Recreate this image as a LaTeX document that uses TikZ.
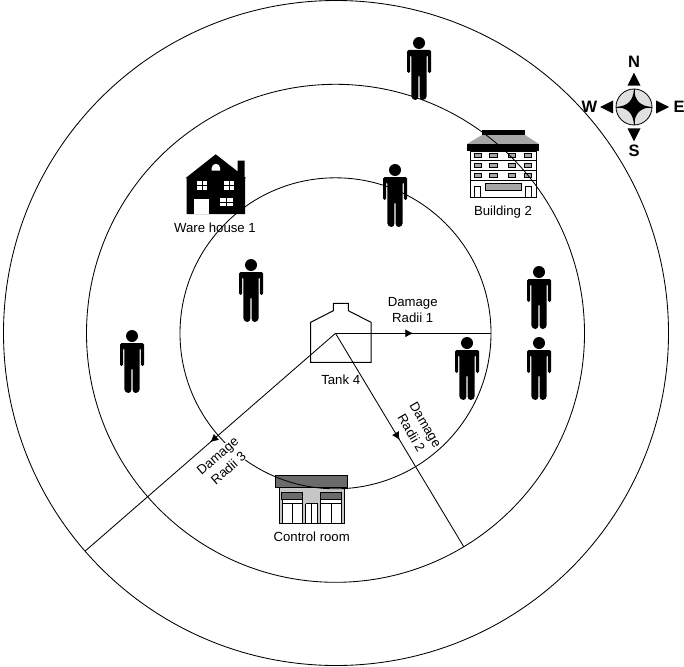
\documentclass[tikz,border=0pt]{standalone}
\usepackage{fontspec}
\setmainfont{Liberation Sans}
\usetikzlibrary{decorations.markings,arrows.meta}
\definecolor{roofgrey}{gray}{0.65}
\definecolor{darkgrey}{gray}{0.42}
\tikzset{
  x=1pt,y=-1pt,
  ring/.style={circle,draw=black,line width=0.85pt,minimum size=#1,inner sep=0pt,outer sep=0pt},
  radius line/.style={line width=0.85pt,postaction={decorate},decoration={markings,mark=at position #1 with {\arrow{Latex[length=8pt,width=8pt]}}}},
  lbl/.style={font=\fontsize{13.2}{16.5}\selectfont,align=center,inner sep=1pt},
  lblbox/.style={lbl,fill=white},
  compassletter/.style={font=\bfseries\fontsize{16.5}{18}\selectfont,inner sep=0pt},
  pics/person/.style={code={
    \fill[black] (0,0) circle (6);
    \fill[black,rounded corners=1.5pt] (-12,7) -- (12,7) -- (12,30) -- (8.8,30) -- (8.8,12) -- (7.6,12) -- (7.6,55) -- (5,57) -- (2.2,57) -- (0.6,55) -- (0.6,32) -- (-0.6,32) -- (-0.6,55) -- (-2.2,57) -- (-5,57) -- (-7.6,55) -- (-7.6,12) -- (-8.8,12) -- (-8.8,30) -- (-12,30) -- cycle;
  }}
}
\begin{document}
\begin{tikzpicture}
\useasboundingbox (0,0) rectangle (684,666);
% ---------- house
\fill[black] (185.7,178) -- (215.7,154.3) -- (237.7,171.5) -- (237.7,160.7) -- (244.7,160.7) -- (244.7,177) -- (246,178) -- (245,178) -- (245,214) -- (186.7,214) -- (186.7,178) -- cycle;
\fill[white] (194.3,199) rectangle (208.7,214);
\fill[white] (211.7,170.7) -- (211.7,168) arc[start angle=180,end angle=360,radius=4.2] -- (220,170.7) -- cycle;
\foreach \wx in {197.3,224.3}{
  \fill[white] (\wx,181) rectangle (\wx+4.2,184.8);
  \fill[white] (\wx+5.6,181) rectangle (\wx+9.8,184.8);
  \fill[white] (\wx,186.2) rectangle (\wx+4.2,190);
  \fill[white] (\wx+5.6,186.2) rectangle (\wx+9.8,190);
}
\fill[white] (220,197.7) rectangle (226,201.7);
\fill[white] (227.3,197.7) rectangle (233.3,201.7);
\fill[white] (220,203) rectangle (226,206);
\fill[white] (227.3,203) rectangle (233.3,206);
% ---------- building
\fill[black] (482,130) rectangle (525,135);
\fill[roofgrey] (482,135) -- (467,144) -- (539,144) -- (525,135) -- cycle;
\fill[black] (466.7,144) -- (539.3,144) -- (539.3,151) -- (466.7,151) -- cycle;
\draw[black,line width=1pt,fill=white] (470.5,151) rectangle (536,197);
\foreach \fy in {160,170,180}{\draw[line width=1pt] (470.5,\fy) -- (536,\fy);}
\foreach \fy in {153.5,163.5,173.5}{
  \foreach \fx in {474,489.5,508,524.3}{
    \draw[line width=0.8pt,fill=roofgrey] (\fx,\fy) rectangle (\fx+7.5,\fy+3.8);
  }
}
\draw[line width=0.9pt,fill=roofgrey] (485,183.3) rectangle (521,190);
\draw[line width=1pt] (474.3,197) -- (474.3,186) -- (480.7,186) -- (480.7,197);
\draw[line width=1pt] (525,197) -- (525,186) -- (531.7,186) -- (531.7,197);
% ---------- control room
\draw[line width=1pt,fill=darkgrey] (275.5,475.5) rectangle (347.5,487);
\draw[line width=1pt,fill=gray!45] (279,487) rectangle (344,523);
\fill[white] (282.5,499) rectangle (302,523);
\fill[white] (320,499) rectangle (341,523);
\fill[white] (306,503) rectangle (317,523);
\draw[line width=0.9pt,fill=darkgrey] (281.7,492.3) rectangle (302.7,499);
\draw[line width=0.9pt,fill=darkgrey] (320,492.3) rectangle (341.7,499);
\draw[line width=0.7pt] (282,503.5) -- (302.5,503.5) (320,503.5) -- (341.5,503.5) (305.5,503.5) -- (317.5,503.5);
\draw[line width=0.9pt] (282,499) -- (282,523) (292,503.5) -- (292,523) (302.5,499) -- (302.5,523);
\draw[line width=0.9pt] (320,499) -- (320,523) (331,503.5) -- (331,523) (341.5,499) -- (341.5,523);
\draw[line width=0.6pt] (305.5,503.5) -- (305.5,523) (311.5,503.5) -- (311.5,523) (317.5,503.5) -- (317.5,523);
\draw[line width=1pt] (279,523) -- (344,523);
% ---------- rings
\coordinate (ctr) at (335.5,333.3);
\node[ring=311pt] (inner) at (ctr) {};
\node[ring=498pt] (middle) at (ctr) {};
\node[ring=665pt] (outer) at (336,333) {};
% ---------- tank
\draw[line width=1pt,fill=white,line join=miter] (310.7,322.3) -- (333.3,310.7) -- (333.3,303.3) -- (348.3,303.3) -- (348.3,310.7) -- (371,322.3) -- (371,362.3) -- (310.7,362.3) -- cycle;
% ---------- people
\foreach \px/\py/\pn in {419/43/pa,395/170/pb,251/265/pc,132/336/pd,539/272/pe,539/343/pf,467/343/pg}{
  \pic (\pn) at (\px,\py) {person};
}
% ---------- damage radii
\node[lblbox,rotate=-59.6,inner sep=0pt] (r2lbl) at (418.5,429) {Damage\\Radii 2};
\node[lblbox,rotate=41,inner sep=0pt] (r3lbl) at (223,462) {Damage\\Radii 3};
\node[lbl] (r1lbl) at (412.7,310) {Damage\\Radii 1};
\draw[radius line=0.5] (ctr) -- (inner.0);
\draw[radius line=0.5] (ctr) -- (middle.-59.6);
\draw[radius line=0.5] (ctr) -- (outer.221.2);
% ---------- labels
\node[lbl] (tank) at (340.7,380) {Tank 4};
\node[lbl] (ware) at (215,228) {Ware house 1};
\node[lbl] (ctrl) at (311.7,537) {Control room};
\node[lbl] (bldg) at (503,212) {Building 2};
% ---------- compass
\coordinate (cmp) at (634,107);
\fill[black!12] (cmp) circle (18);
\draw[line width=0.8pt] (cmp) circle (18);
\draw[line width=0.8pt] (616,107) -- (652,107) (634,89) -- (634,125);
\fill[black] (634,89) .. controls (635,101) and (640,106) .. (652,107) .. controls (640,108) and (635,113) .. (634,125) .. controls (633,113) and (628,108) .. (616,107) .. controls (628,106) and (633,101) .. cycle;
\fill[black] (634,72.7) -- (640.5,85.7) -- (627.5,85.7) -- cycle;
\fill[black] (634,141.3) -- (640.5,128.3) -- (627.5,128.3) -- cycle;
\fill[black] (669,107) -- (656,100.5) -- (656,113.5) -- cycle;
\fill[black] (600,107) -- (613,100.5) -- (613,113.5) -- cycle;
\node[compassletter] (N) at (634,62) {N};
\node[compassletter] (S) at (634,151) {S};
\node[compassletter] (W) at (589.5,107) {W};
\node[compassletter] (E) at (679,107) {E};
\end{tikzpicture}
\end{document}
